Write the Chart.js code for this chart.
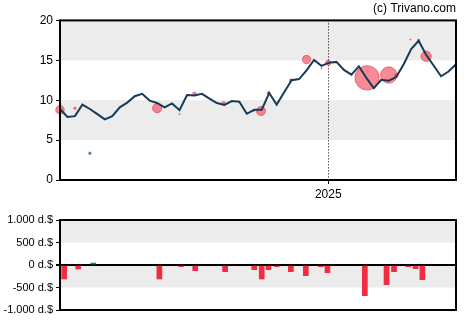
<!DOCTYPE html>
<html>
<head>
<meta charset="utf-8">
<script src="https://cdn.jsdelivr.net/npm/chart.js@4/dist/chart.umd.min.js"></script>
<style>
    html, body { margin: 0; padding: 0; background: #fff; }
    #wrap { position: relative; width: 470px; height: 325px; }
    #priceChart { position: absolute; left: 0; top: 0; }
    #flowChart { position: absolute; left: 0; top: 200px; }
</style>
</head>
<body>
<div id="wrap">
    <canvas id="priceChart" width="470" height="200"></canvas>
    <canvas id="flowChart" width="470" height="125"></canvas>
</div>
<script>
/* ------------------------------------------------------------
   Data (x = weeks since start of the window)
   ------------------------------------------------------------ */
const priceWeekly = [
    8.9, 7.9, 8.0, 9.45, 8.9, 8.25, 7.6, 8.0, 9.1, 9.7,
    10.5, 10.8, 9.95, 9.65, 9.1, 9.6, 8.75, 10.65, 10.6, 10.8,
    10.2, 9.65, 9.4, 9.9, 9.8, 8.3, 8.8, 8.8, 10.9, 9.45,
    11.0, 12.5, 12.65, 13.75, 15.05, 14.3, 14.7, 14.8, 13.8, 13.2,
    14.25, 12.8, 11.5, 12.55, 12.45, 12.9, 14.5, 16.4, 17.45, 15.7,
    14.35, 13.0, 13.6, 14.5
];

const sellWeek  = [0, 2.0, 13.0, 16.0, 18.0, 21.9, 26.0, 26.9, 27.9, 30.9, 33.0, 35.0, 35.9, 41.1, 44.0, 45.0, 46.9, 48.0, 49.0];
const sellPrice = [8.8, 9.0, 9.0, 8.25, 10.8, 9.6, 8.7, 8.65, 10.9, 12.5, 15.1, 14.0, 14.7, 12.8, 13.15, 13.1, 17.6, 17.5, 15.5];
const sellSize  = [4.3, 1.2, 4.6, 0.6, 1.8, 1.8, 0.8, 4.5, 1.4, 1.4, 4.2, 0.6, 2.6, 12.2, 8.2, 1.7, 0.6, 1.1, 5.2];

const buyWeek  = [4.0];
const buyPrice = [3.35];
const buySize  = [1.2];

const flowWeek  = [0.56, 2.44, 4.45, 13.3, 16.2, 18.1, 22.1, 26.0, 27.0, 27.9, 29.0, 30.9, 32.9, 34.9, 35.8, 40.8, 43.7, 44.7, 46.6, 47.6, 48.5];
const flowValue = [-311, -89, 44, -311, -37, -126, -148, -104, -311, -104, -37, -148, -237, -37, -170, -681, -437, -148, -37, -81, -326];

const yearWeek  = [35.9];
const yearLabel = ["2025"];

const priceTicks = [0, 5, 10, 15, 20];
const flowTicks  = [-1000, -500, 0, 500, 1000];

const priceBands = [[5, 10], [15, 20]];
const flowBands  = [[-500, 0], [500, 1000]];

/* ------------------------------------------------------------
   Helpers
   ------------------------------------------------------------ */
const FONT = "'Liberation Sans', Arial, sans-serif";
const WEEKS = priceWeekly.length - 1;

function fmtDollar(v) {
    const s = Math.abs(v).toString().replace(/\B(?=(\d{3})+(?!\d))/g, ".");
    return (v < 0 ? "-" : "") + s + " d.$";
}

// grey bands (under the grid) + black frame around the plot area
const bandsPlugin = {
    id: "bands",
    beforeDraw(chart, args, opts) {
        const { ctx, chartArea: a, scales: { y } } = chart;
        ctx.save();
        ctx.fillStyle = "#ececec";
        opts.bands.forEach(b => {
            const top = y.getPixelForValue(b[1]);
            const bot = y.getPixelForValue(b[0]);
            ctx.fillRect(a.left, top, a.right - a.left, bot - top);
        });
        ctx.restore();
    },
    afterDraw(chart) {
        const { ctx, chartArea: a } = chart;
        ctx.save();
        ctx.strokeStyle = "#000";
        ctx.lineWidth = 2;
        ctx.strokeRect(a.left, a.top, a.right - a.left, a.bottom - a.top);
        ctx.restore();
    }
};

function yAxis(ticks, size, fmt) {
    return {
        min: ticks[0],
        max: ticks[ticks.length - 1],
        afterBuildTicks: axis => { axis.ticks = ticks.map(v => ({ value: v })); },
        afterFit: axis => { axis.width = 60; },
        border: { display: false },
        grid: { drawOnChartArea: false, color: "#000", tickLength: 4 },
        ticks: { color: "#000", padding: 3, font: { family: FONT, size: size }, callback: fmt }
    };
}

/* ------------------------------------------------------------
   Chart: price line + insider trades
   ------------------------------------------------------------ */
function renderPriceChart() {
    const ctx = document.getElementById("priceChart");

    new Chart(ctx, {
        type: "line",
        data: {
            datasets: [
                {
                    type: "line",
                    data: priceWeekly.map((v, i) => ({ x: i, y: v })),
                    borderColor: "#173a56",
                    borderWidth: 2,
                    pointRadius: 0,
                    tension: 0,
                    order: 1
                },
                {
                    type: "bubble",
                    data: sellWeek.map((w, i) => ({ x: w, y: sellPrice[i], r: sellSize[i] })),
                    backgroundColor: "rgba(240, 60, 80, 0.6)",
                    borderColor: "rgba(235, 45, 65, 0.7)",
                    borderWidth: 0.8,
                    clip: false,
                    order: 2
                },
                {
                    type: "bubble",
                    data: buyWeek.map((w, i) => ({ x: w, y: buyPrice[i], r: buySize[i] })),
                    backgroundColor: "rgba(46, 139, 87, 0.8)",
                    borderColor: "#2e8b57",
                    borderWidth: 0.8,
                    order: 2
                }
            ]
        },
        options: {
            responsive: false,
            animation: false,
            devicePixelRatio: 1,
            layout: { padding: { left: 0, right: 14, top: 0, bottom: 0 } },
            plugins: {
                legend: { display: false },
                tooltip: { enabled: false },
                title: {
                    display: true,
                    text: "(c) Trivano.com",
                    align: "end",
                    color: "#000",
                    font: { family: FONT, size: 12, weight: "normal" },
                    padding: { top: 1, bottom: 5 }
                },
                bands: { bands: priceBands }
            },
            scales: {
                x: {
                    type: "linear",
                    min: 0,
                    max: WEEKS,
                    afterBuildTicks: axis => { axis.ticks = yearWeek.map(v => ({ value: v })); },
                    afterFit: axis => { axis.height = 20; },
                    border: { display: false, dash: [1, 2] },
                    grid: { color: "#000", lineWidth: 1, tickLength: 4, tickBorderDash: [] },
                    ticks: {
                        color: "#000",
                        padding: 3,
                        maxRotation: 0,
                        font: { family: FONT, size: 12 },
                        callback: v => yearLabel[yearWeek.indexOf(v)]
                    }
                },
                y: yAxis(priceTicks, 12, v => v)
            }
        },
        plugins: [bandsPlugin]
    });
}

/* ------------------------------------------------------------
   Chart: net insider flow (bars)
   ------------------------------------------------------------ */
function renderFlowChart() {
    const ctx = document.getElementById("flowChart");

    new Chart(ctx, {
        type: "bar",
        data: {
            datasets: [{
                data: flowWeek.map((w, i) => ({ x: w, y: flowValue[i] })),
                backgroundColor: c => (c.raw && c.raw.y > 0 ? "#2e8b57" : "#f02b42"),
                barThickness: 5
            }]
        },
        options: {
            responsive: false,
            animation: false,
            devicePixelRatio: 1,
            layout: { padding: { left: 0, right: 14, top: 20, bottom: 0 } },
            plugins: {
                legend: { display: false },
                tooltip: { enabled: false },
                bands: { bands: flowBands }
            },
            scales: {
                x: {
                    type: "linear",
                    min: 0,
                    max: WEEKS,
                    offset: false,
                    afterFit: axis => { axis.height = 15; },
                    border: { display: false },
                    grid: { display: false, offset: false },
                    ticks: { display: false }
                },
                y: Object.assign(yAxis(flowTicks, 11, v => fmtDollar(v)), {
                    grid: {
                        drawOnChartArea: true,
                        color: c => (c.tick && c.tick.value === 0 ? "#000" : "rgba(0,0,0,0)"),
                        lineWidth: c => (c.tick && c.tick.value === 0 ? 2 : 1),
                        tickColor: "#000",
                        tickLength: 4
                    }
                })
            }
        },
        plugins: [bandsPlugin]
    });
}

document.addEventListener("DOMContentLoaded", () => {
    renderPriceChart();
    renderFlowChart();
});
</script>
</body>
</html>
